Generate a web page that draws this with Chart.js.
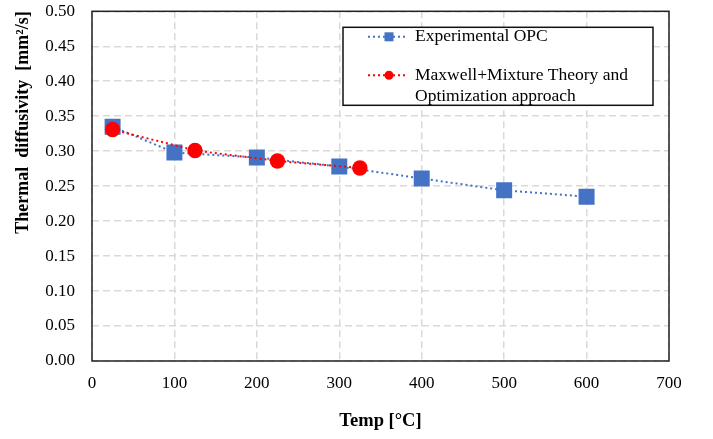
<!DOCTYPE html>
<html>
<head>
<meta charset="utf-8">
<script src="https://cdn.jsdelivr.net/npm/chart.js@4.4.1/dist/chart.umd.min.js"></script>
<style>
  html, body { margin: 0; padding: 0; background: #fff; }
  #wrap { width: 713px; height: 439px; }
</style>
</head>
<body>
<div id="wrap"><canvas id="chart" width="713" height="439"></canvas></div>
<script>
'use strict';
// values
const expTemp = [25, 100, 200, 300, 400, 500, 600];
const expDiff = [0.335, 0.298, 0.291, 0.278, 0.261, 0.244, 0.235];
const modelTemp = [25, 125, 225, 325];
const modelDiff = [0.331, 0.301, 0.286, 0.276];

const expLabel = 'Experimental OPC';
const modelLabel = 'Maxwell+Mixture Theory and Optimization approach';
const legendLines = [['Experimental OPC'], ['Maxwell+Mixture Theory and', 'Optimization approach']];

const xTitle = 'Temp [°C]';
const yTitle = 'Thermal  diffusivity  [mm²/s]';

const serif = "'Liberation Serif', 'Times New Roman', serif";

function toPoints(xs, ys) {
    return xs.map((x, i) => ({ x: x, y: ys[i] }));
}

// box round the plot area
const frame = {
    id: 'frame',
    afterDraw(chart) {
        const a = chart.chartArea;
        const c = chart.ctx;
        c.save();
        c.strokeStyle = '#222';
        c.lineWidth = 1.5;
        c.strokeRect(a.left, a.top, a.right - a.left, a.bottom - a.top);
        c.restore();
    }
};

// legend box inside the plot, as in the reference
const boxLegend = {
    id: 'boxLegend',
    afterDraw(chart) {
        const a = chart.chartArea;
        const c = chart.ctx;
        const left = a.left + 251, top = a.top + 16, w = 310, h = 78;
        c.save();
        c.fillStyle = '#fff';
        c.fillRect(left, top, w, h);
        c.strokeStyle = '#111';
        c.lineWidth = 1.5;
        c.strokeRect(left, top, w, h);
        const rows = [top + 9.5, top + 48];
        chart.data.datasets.forEach((ds, i) => {
            const y = rows[i];
            c.strokeStyle = ds.borderColor;
            c.lineWidth = 2;
            c.setLineDash([2, 3]);
            c.beginPath();
            c.moveTo(left + 25, y);
            c.lineTo(left + 63, y);
            c.stroke();
            c.setLineDash([]);
            c.fillStyle = ds.backgroundColor;
            if (ds.pointStyle === 'rect') {
                c.fillRect(left + 41.5, y - 4.5, 9, 9);
            } else {
                c.beginPath();
                c.arc(left + 46, y, 4.5, 0, Math.PI * 2);
                c.fill();
            }
            c.fillStyle = '#000';
            c.font = '17.5px ' + serif;
            c.textBaseline = 'middle';
            legendLines[i].forEach((t, k) => {
                c.fillText(t, left + 72, y + k * 20.7);
            });
        });
        c.restore();
    }
};

new Chart(document.getElementById('chart').getContext('2d'), {
    type: 'scatter',
    data: {
        datasets: [
            {
                label: expLabel,
                data: toPoints(expTemp, expDiff),
                showLine: true,
                borderColor: '#4472C4',
                backgroundColor: '#4472C4',
                borderWidth: 2,
                borderDash: [2, 3],
                pointStyle: 'rect',
                pointRadius: 11.3,
                pointBorderWidth: 0,
                order: 2,
            },
            {
                label: modelLabel,
                data: toPoints(modelTemp, modelDiff),
                showLine: true,
                borderColor: '#FF0000',
                backgroundColor: '#FF0000',
                borderWidth: 2,
                borderDash: [2, 3],
                pointStyle: 'circle',
                pointRadius: 7.7,
                pointBorderWidth: 0,
                order: 1,
            },
        ],
    },
    options: {
        responsive: false,
        animation: false,
        layout: { padding: { left: 0, top: 7, right: 44, bottom: 0 } },
        plugins: {
            legend: { display: false },
            tooltip: { enabled: false },
        },
        scales: {
            x: {
                type: 'linear',
                min: 0,
                max: 700,
                afterFit: (s) => { s.height = 78; s.paddingLeft = 0; s.paddingRight = 0; },
                ticks: {
                    stepSize: 100,
                    padding: 12,
                    color: '#000',
                    font: { family: serif, size: 17 },
                },
                grid: {
                    color: '#d9d9d9',
                    lineWidth: 1.5,
                    drawTicks: false,
                },
                border: { display: false, dash: [7, 4] },
                title: {
                    display: true,
                    text: xTitle,
                    color: '#000',
                    font: { family: serif, size: 18.5, weight: 'bold' },
                    padding: { top: 0, bottom: 7 },
                },
            },
            y: {
                min: 0,
                max: 0.5,
                afterFit: (s) => { s.width = 92; s.paddingTop = 0; s.paddingBottom = 0; },
                ticks: {
                    stepSize: 0.05,
                    padding: 17,
                    color: '#000',
                    font: { family: serif, size: 17 },
                    callback: (v) => v.toFixed(2),
                },
                grid: {
                    color: '#d9d9d9',
                    lineWidth: 1.5,
                    drawTicks: false,
                },
                border: { display: false, dash: [7, 4] },
                title: {
                    display: true,
                    text: yTitle,
                    align: 'end',
                    color: '#000',
                    font: { family: serif, size: 18, weight: 'bold' },
                    padding: { top: 13, bottom: 0 },
                },
            },
        },
    },
    plugins: [frame, boxLegend],
});
</script>
</body>
</html>
